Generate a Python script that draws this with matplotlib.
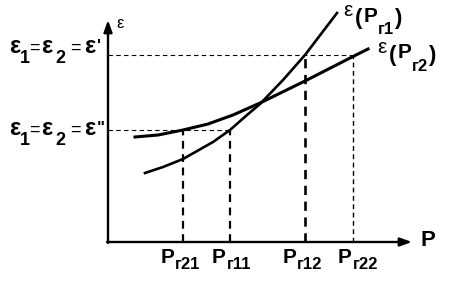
import matplotlib
matplotlib.use("Agg")
import matplotlib.pyplot as plt

plt.rcParams['font.family'] = ['Liberation Sans', 'DejaVu Sans']

# Data (chart units, origin at the axes corner)
p_r1 = [37, 55, 75, 105, 122, 139, 152, 175, 197, 229]
eps_r1 = [69, 75, 83, 100, 112, 127, 138, 162, 187, 229]
p_r2 = [27, 50, 75, 100, 125, 152, 197, 246, 260]
eps_r2 = [105, 107, 112, 118, 127, 139, 161, 186, 193]

eps_high = 187   # ε'
eps_low = 112    # ε''
p_marks = [75, 122, 197, 245]
p_mark_levels = [eps_low, eps_low, eps_high, eps_high]
p_mark_subs = ['г21', 'г11', 'г12', 'г22']
p_mark_lw = [1.6, 1.6, 1.9, 1.0]

W, H = 459, 281
X0, Y0 = 108, 242  # origin location in image pixels

fig = plt.figure(figsize=(W / 100, H / 100), dpi=100)
ax = fig.add_axes([0, 0, 1, 1])
ax.set_xlim(-X0, W - X0)
ax.set_ylim(Y0 - H, Y0)
ax.axis('off')
renderer = fig.canvas.get_renderer()


def px(x, y):
    return x - X0, Y0 - y


def put(x_img, y_img, s, fs, bold=True):
    dx, dy = px(x_img, y_img)
    return ax.text(dx, dy, s, fontsize=fs, fontweight='bold' if bold else 'normal',
                   ha='left', va='baseline', color='black')


def seq(x_img, pieces):
    """pieces: (text, fontsize, baseline_y_img, bold, gap_px)"""
    x = x_img
    for s, fs, yb, bold, gap in pieces:
        t = put(x, yb, s, fs, bold)
        bb = t.get_window_extent(renderer)
        x += bb.width + gap


# axes with arrows
arrow = dict(arrowstyle='-|>,head_length=0.7,head_width=0.25', lw=1.7, color='black',
             shrinkA=0, shrinkB=0)
ax.annotate('', xy=(0, 222), xytext=(0, -1), arrowprops=arrow)
ax.annotate('', xy=(304, 0), xytext=(-1, 0), arrowprops=arrow)

# horizontal dashed lines
ax.plot([0, p_marks[3]], [eps_high, eps_high], color='black', lw=0.8, ls=(0, (4, 3)))
ax.plot([0, p_marks[1]], [eps_low, eps_low], color='black', lw=0.8, ls=(0, (4, 3)))

# vertical dashed lines
for p, lev, lw in zip(p_marks, p_mark_levels, p_mark_lw):
    ax.plot([p, p], [0, lev], color='black', lw=lw, ls=(0, (3.5, 2.5)))

# curves
ax.plot(p_r1, eps_r1, color='black', lw=1.9, solid_joinstyle='round')
ax.plot(p_r2, eps_r2, color='black', lw=2.2, solid_joinstyle='round')

# bottom labels
label_left = [161, 212, 283, 338]
for xl, sub in zip(label_left, p_mark_subs):
    seq(xl, [('P', 15, 263, True, 0.5), (sub, 12, 269, True, 0)])

# axis labels
put(420, 246, 'P', 16)
put(116, 28, 'ε', 12, bold=False)


# left labels
def eq_label(y, prime):
    put(9, y, 'ε', 17)
    put(20, y + 10, '1', 13)
    put(29, y, '=', 13, bold=False)
    put(41, y, 'ε', 17)
    put(55, y + 10, '2', 13)
    put(70, y, '=', 13, bold=False)
    put(84, y, 'ε', 17)
    put(97, y - 2, prime, 12)


eq_label(53, "'")
eq_label(135, '"')

# curve labels
seq(343, [('ε', 15, 16, False, 3), ('(', 16, 24, True, 1), ('P', 15, 22, True, 0),
          ('г1', 12, 34, True, 0.5), (')', 16, 24, True, 0)])
seq(377, [('ε', 15, 53, False, 3), ('(', 16, 61, True, 1), ('P', 15, 58, True, 0),
          ('г2', 12, 71, True, 0.5), (')', 16, 61, True, 0)])

fig.savefig('out.png', dpi=100)
